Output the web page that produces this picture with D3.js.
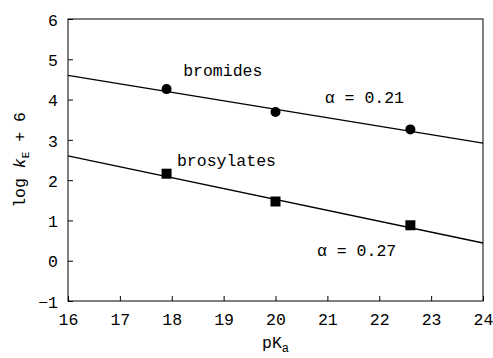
<!DOCTYPE html>
<html>
<head>
<meta charset="utf-8">
<script src="https://cdn.jsdelivr.net/npm/d3@7.9.0/dist/d3.min.js"></script>
<style>
  body { margin: 0; background: #fff; }
  svg text { font-family: "Liberation Mono", monospace; fill: #000; }
</style>
</head>
<body>
<svg id="chart" width="493" height="358"></svg>
<script>
const pKa = [17.9, 20.0, 22.6];
const bromides = [4.26, 3.69, 3.26];
const brosylates = [2.16, 1.47, 0.88];
// fitted lines, value at pKa = 16 and slope
const bromideFit = { at16: 4.60, slope: -0.21 };
const brosylateFit = { at16: 2.60, slope: -0.27 };
const xTicks = [16, 17, 18, 19, 20, 21, 22, 23, 24];
const yTicks = [-1, 0, 1, 2, 3, 4, 5, 6];

const width = 493, height = 358;
const margin = { top: 19, right: 10, bottom: 57, left: 68 };

const svg = d3.select('#chart');
const x = d3.scaleLinear().domain([16, 24]).range([margin.left, width - margin.right]);
const y = d3.scaleLinear().domain([-1, 6]).range([height - margin.bottom, margin.top]);

// frame
svg.append('rect')
  .attr('x', x(16)).attr('y', y(6))
  .attr('width', x(24) - x(16)).attr('height', y(-1) - y(6))
  .attr('fill', 'none').attr('stroke', '#000').attr('stroke-width', 1);

const xAxis = svg.append('g')
  .attr('transform', `translate(0,${y(-1)})`)
  .call(d3.axisBottom(x).tickValues(xTicks).tickFormat(d3.format('d'))
    .tickSizeInner(-5).tickSizeOuter(0).tickPadding(12));
const yAxis = svg.append('g')
  .attr('transform', `translate(${x(16)},0)`)
  .call(d3.axisLeft(y).tickValues(yTicks).tickFormat(d3.format('d'))
    .tickSizeInner(-5).tickSizeOuter(0).tickPadding(10));

[xAxis, yAxis].forEach((g) => {
  g.select('.domain').remove();
  g.selectAll('text').style('font-size', '16.5px');
});
yAxis.selectAll('text').attr('dy', '0.38em');

// fit lines
const line = d3.line().x((d) => x(d[0])).y((d) => y(d[1]));
[bromideFit, brosylateFit].forEach((f) => {
  svg.append('path')
    .attr('d', line([[16, f.at16], [24, f.at16 + 8 * f.slope]]))
    .attr('fill', 'none').attr('stroke', '#000').attr('stroke-width', 1.3);
});

// markers
svg.selectAll('circle.pt')
  .data(d3.zip(pKa, bromides))
  .join('circle')
  .attr('class', 'pt')
  .attr('cx', (d) => x(d[0])).attr('cy', (d) => y(d[1]))
  .attr('r', 5).attr('fill', '#000');

svg.selectAll('rect.pt')
  .data(d3.zip(pKa, brosylates))
  .join('rect')
  .attr('class', 'pt')
  .attr('x', (d) => x(d[0]) - 5).attr('y', (d) => y(d[1]) - 5)
  .attr('width', 10).attr('height', 10).attr('fill', '#000');

// annotations (data coordinates)
const notes = [
  { text: 'bromides', px: 18.22, py: 4.59 },
  { text: 'brosylates', px: 18.1, py: 2.35 },
  { text: 'α = 0.21', px: 20.95, py: 3.92 },
  { text: 'α = 0.27', px: 20.8, py: 0.12 }
];
notes.forEach((n) => {
  svg.append('text')
    .attr('x', x(n.px)).attr('y', y(n.py))
    .style('font-size', '16.5px')
    .text(n.text);
});

// axis titles
const xt = svg.append('text')
  .attr('x', (x(16) + x(24)) / 2).attr('y', 348)
  .attr('text-anchor', 'middle').style('font-size', '16.5px');
xt.append('tspan').text('pK');
xt.append('tspan').attr('dy', 4).style('font-size', '12px').text('a');

const yt = svg.append('text')
  .attr('transform', `translate(25,${(y(6) + y(-1)) / 2}) rotate(-90)`)
  .attr('text-anchor', 'middle').style('font-size', '16.5px');
yt.append('tspan').text('log ');
yt.append('tspan').style('font-style', 'italic').text('k');
yt.append('tspan').attr('dy', 4).style('font-size', '11px').text('E');
yt.append('tspan').attr('dy', -4).text(' + 6');
</script>
</body>
</html>
